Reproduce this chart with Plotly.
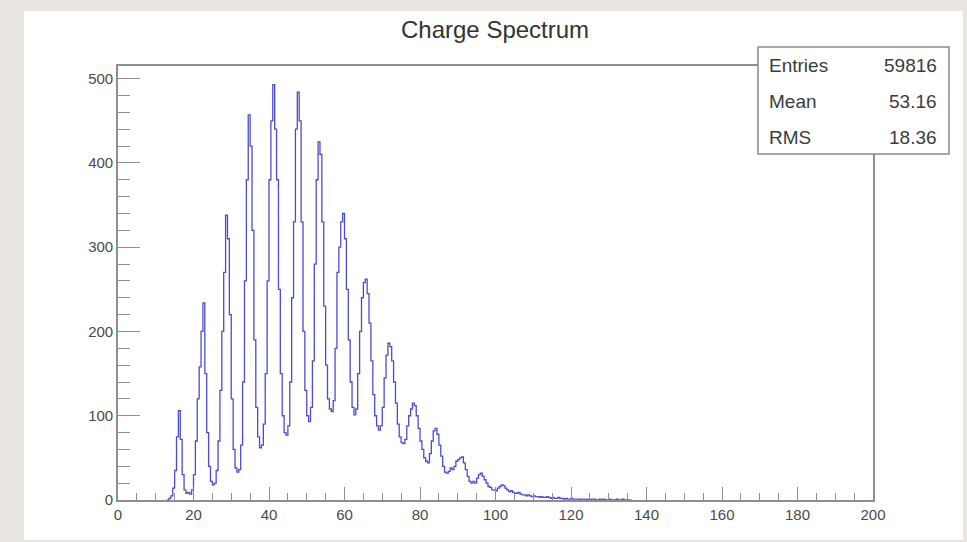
import numpy as np
import plotly.graph_objects as go

# Histogram content: bin width 0.5, first bin starts at 13.0
bin_width = 0.5
first_edge = 13.0
counts = [
    0, 2, 5, 14, 35, 75, 106, 72, 30, 12,            # 13.0 - 17.5
    8, 9, 7, 12, 30, 70, 120, 158, 200, 234,         # 18.0 - 22.5
    150, 80, 40, 22, 18, 20, 35, 70, 130, 200,       # 23.0 - 27.5
    270, 338, 310, 220, 120, 60, 38, 33, 36, 65,     # 28.0 - 32.5
    140, 260, 380, 457, 420, 320, 190, 110, 75, 62,  # 33.0 - 37.5
    65, 90, 150, 260, 380, 450, 493, 440, 380, 250,  # 38.0 - 42.5
    150, 100, 80, 77, 88, 140, 240, 330, 440, 484,   # 43.0 - 47.5
    450, 330, 200, 130, 100, 93, 110, 165, 280, 380, # 48.0 - 52.5
    425, 410, 330, 230, 160, 120, 108, 105, 118, 180,  # 53.0 - 57.5
    270, 300, 330, 340, 310, 250, 190, 140, 110, 101,  # 58.0 - 62.5
    108, 150, 200, 240, 258, 262, 245, 210, 165, 125,  # 63.0 - 67.5
    100, 88, 83, 88, 110, 145, 172, 186, 182, 165,     # 68.0 - 72.5
    140, 115, 90, 75, 68, 67, 72, 88, 100, 108,        # 73.0 - 77.5
    115, 112, 100, 85, 70, 60, 50, 46, 44, 55,         # 78.0 - 82.5
    70, 82, 85, 78, 65, 52, 40, 33, 32, 34,            # 83.0 - 87.5
    38, 36, 40, 46, 48, 50, 51, 44, 36, 28,            # 88.0 - 92.5
    22, 20, 22, 20, 26, 30, 32, 28, 24, 20,            # 93.0 - 97.5
    16, 15, 12, 12, 11, 14, 16, 18, 17, 14,            # 98.0 - 102.5
    12, 10, 11, 9, 8, 8, 9, 7, 6, 6,                   # 103.0 - 107.5
    5, 6, 5, 4, 5, 4, 4, 3, 4, 3,                      # 108.0 - 112.5
    3, 4, 3, 2, 3, 2, 2, 3, 2, 2,                      # 113.0 - 117.5
    1, 2, 1, 1, 2, 1, 1, 1, 0, 1,                      # 118.0 - 122.5
    1, 1, 0, 1, 0, 1, 1, 0, 0, 1,                      # 123.0 - 127.5
    0, 1, 0, 0, 1, 0, 0, 0, 1, 0,                      # 128.0 - 132.5
    0, 1, 0, 0, 0, 0,                                  # 133.0 - 135.5
]

title_text = "Charge Spectrum"
stat_names = ["Entries", "Mean", "RMS"]
stat_values = ["59816", "53.16", "18.36"]

x_range = [0, 200]
y_range = [0, 515]

# step outline (ROOT-style histogram line)
edges = first_edge + bin_width * np.arange(len(counts) + 1)
xs = np.concatenate([[edges[0]], edges])
ys = np.concatenate([[0], counts, [0]])

fig = go.Figure()
fig.add_trace(go.Scatter(
    x=xs, y=ys, mode="lines", line_shape="hv",
    line=dict(color="rgba(45,45,200,0.85)", width=1.3),
    hoverinfo="skip", showlegend=False,
))

axis_color = "#8f8f8f"
tick_font = dict(family="Liberation Sans, Arial, sans-serif", size=15, color="#4a4a4a")

fig.update_xaxes(
    range=x_range, showgrid=False, zeroline=False,
    showline=True, mirror=True, linecolor=axis_color, linewidth=1.6,
    ticks="inside", tickcolor=axis_color, ticklen=13, tickwidth=1.3,
    dtick=20, tick0=0, tickfont=tick_font,
    minor=dict(ticks="inside", ticklen=7, tickcolor=axis_color, dtick=5, tickwidth=1.2),
)
fig.update_yaxes(
    range=y_range, showgrid=False, zeroline=False,
    showline=True, mirror=True, linecolor=axis_color, linewidth=1.6,
    ticks="inside", tickcolor=axis_color, ticklen=22, tickwidth=1.3,
    dtick=100, tick0=0, tickfont=tick_font,
    minor=dict(ticks="inside", ticklen=12, tickcolor=axis_color, dtick=20, tickwidth=1.2),
)

# plot frame pixels: x 118..873, y 66..500
L, R, T, B = 118, 94, 66, 42
PW, PH = 967 - L - R, 542 - T - B


def px(x):
    return (x - L) / PW


def py(y):
    return (542 - B - y) / PH


shapes = [
    # white canvas over the grey surround
    dict(type="rect", xref="paper", yref="paper",
         x0=px(24), x1=px(963), y0=py(540), y1=py(11),
         fillcolor="white", line=dict(width=0), layer="below"),
    # statistics box
    dict(type="rect", xref="paper", yref="paper",
         x0=px(758), x1=px(949), y0=py(154), y1=py(47),
         fillcolor="white", line=dict(color="#8a8a8a", width=1.5), layer="above"),
]

stat_font = dict(family="Liberation Sans, Arial, sans-serif", size=19, color="#3c3c3c")
annotations = [
    dict(text=title_text, xref="paper", yref="paper", x=px(495), y=py(30),
         xanchor="center", yanchor="middle", showarrow=False,
         font=dict(family="Liberation Sans, Arial, sans-serif", size=24, color="#333333")),
]
for i, (name, val) in enumerate(zip(stat_names, stat_values)):
    yrow = py(65 + 36 * i)
    annotations.append(dict(text=name, xref="paper", yref="paper", x=px(767), y=yrow,
                            xanchor="left", yanchor="middle", showarrow=False, font=stat_font))
    annotations.append(dict(text=val, xref="paper", yref="paper", x=px(939), y=yrow,
                            xanchor="right", yanchor="middle", showarrow=False, font=stat_font))

fig.update_layout(
    width=967, height=542,
    margin=dict(l=L, r=R, t=T, b=B),
    paper_bgcolor="#e9e6e2",
    plot_bgcolor="white",
    shapes=shapes,
    annotations=annotations,
)

fig.write_html("out.html")
